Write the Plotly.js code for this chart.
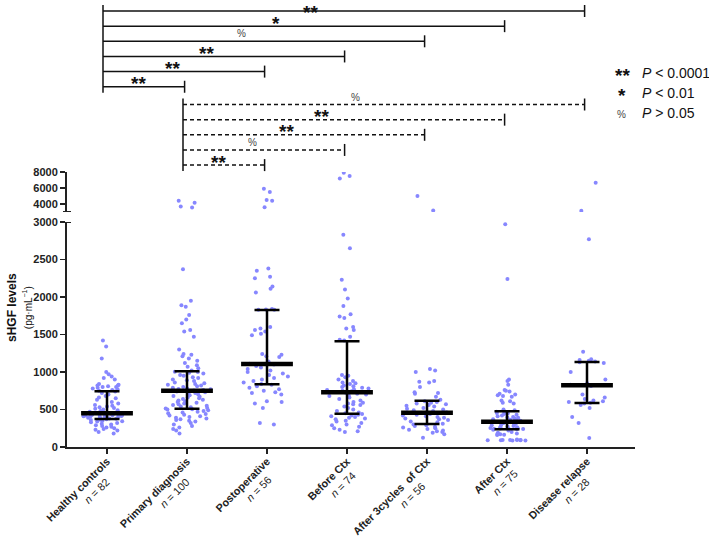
<!DOCTYPE html>
<html><head><meta charset="utf-8">
<script src="https://cdn.plot.ly/plotly-3.0.1.min.js"></script>
<style>html,body{margin:0;padding:0;background:#fff;} #chart{width:709px;height:536px;}</style>
</head><body><div id="chart"></div>
<script>
// ---------- data ----------
const categories = ['Healthy controls','Primary diagnosis','Postoperative','Before Ctx','After 3cycles\u00a0 of Ctx','After Ctx','Disease relapse'];
const groupSizes = [82, 100, 56, 74, 56, 75, 28];

const healthyControls = [1420,1340,1180,1000,970,940,920,900,840,830,820,820,810,800,800,790,780,770,760,750,
  740,720,700,680,660,650,630,600,580,560,550,540,530,520,510,500,490,480,470,460,455,
  450,448,445,440,435,430,430,425,420,420,415,410,410,405,400,400,395,390,385,380,378,
  370,365,360,350,345,340,330,320,310,300,290,280,270,260,250,240,230,220,200,180];
const primaryDiagnosis = [4400,4150,3700,3550,2370,1950,1890,1870,1760,1700,1650,1560,1540,1470,1300,1240,1230,1210,1180,1150,1120,1090,1070,1050,1020,
  1005,1000,990,980,960,950,930,920,900,890,880,860,850,840,830,820,810,800,790,780,775,770,765,760,755,
  750,740,730,720,710,700,690,680,670,660,650,640,630,620,610,600,590,580,570,560,550,540,530,520,515,
  505,500,490,480,470,460,450,440,430,420,410,400,390,380,370,360,350,340,320,300,280,260,240,220,180];
const postoperative = [5900,5500,4500,4400,3600,2380,2350,2270,2250,2140,2110,2060,1840,1835,
  1830,1830,1600,1580,1560,1540,1510,1490,1240,1230,1210,1200,1140,1110,
  1100,1080,1060,1040,1020,1000,980,960,940,920,900,880,860,840,
  830,810,790,770,750,730,720,700,610,600,580,520,320,300];
const beforeCtx = [7900,7500,7200,2830,2650,2230,2100,1980,1880,1770,1740,1720,1600,1580,1560,1470,1430,1420,
  960,950,930,900,880,860,850,840,820,810,800,790,780,770,760,750,745,740,735,
  725,710,700,690,680,660,640,620,600,590,580,570,560,540,520,500,480,460,450,
  440,430,420,410,400,390,380,370,350,340,320,300,290,270,250,230,210,200];
const after3CyclesCtx = [5000,3200,1040,1020,1000,880,870,860,800,730,720,710,670,630,
  610,600,590,580,570,560,550,540,520,510,500,490,480,465,
  455,450,440,430,420,410,400,390,380,370,360,340,330,310,
  300,290,280,270,260,250,240,230,220,210,200,190,170,125];
const afterCtx = [2970,2240,900,880,830,760,750,740,710,700,690,680,670,620,610,590,580,500,490,
  475,470,460,455,450,440,430,420,410,400,395,390,380,370,365,360,350,345,
  335,330,320,310,300,295,290,280,275,270,265,260,255,250,248,245,242,240,238,
  230,220,200,190,180,175,170,165,160,100,95,95,92,92,90,90,90,88,88];
const diseaseRelapse = [6660,3160,2770,1270,1170,1160,1150,
  1140,1130,1120,1000,900,850,830,
  815,700,660,640,620,610,600,
  590,580,560,520,400,320,120];

const medians = [450, 751, 1107, 729, 458, 338, 822];
const q1 = [375, 511, 836, 444, 307, 236, 587];
const q3 = [742, 1009, 1827, 1409, 618, 476, 1133];

const lowerTicks = [0, 500, 1000, 1500, 2000, 2500, 3000];
const upperTicks = [4000, 6000, 8000];

// comparisons vs healthy controls (solid) and vs primary diagnosis (dashed), top to bottom
const healthyCompTo = [6, 5, 4, 3, 2, 1];
const healthyCompSig = ['**', '*', '%', '**', '**', '**'];
const primaryCompTo = [6, 5, 4, 3, 2];
const primaryCompSig = ['%', '**', '**', '%', '**'];

const sigSymbols = ['**', '*', '%'];
const sigMeaning = ['<i>P</i> &lt; 0.0001', '<i>P</i> &lt; 0.01', '<i>P</i> &gt; 0.05'];

// ---------- build ----------
const W = 709, H = 536;
const fx = p => p / W;
const fy = p => 1 - p / H;
const BREAK = 3000;

const groups = [healthyControls, primaryDiagnosis, postoperative, beforeCtx, after3CyclesCtx, afterCtx, diseaseRelapse];
const lowX = [], lowY = [], upX = [], upY = [];
groups.forEach((g, i) => g.forEach(v => {
  if (v > BREAK) { upX.push(i); upY.push(v); } else { lowX.push(i); lowY.push(v); }
}));

// partially centre the second line of each tick label under the first
const cv = document.createElement('canvas').getContext('2d');
function textW(t, f) { cv.font = f; return cv.measureText(t).width; }
const nbspW = textW('\u00a0', '11px Arial') || 3.06;
const tickLabels = categories.map((c, i) => {
  const l2 = 'n = ' + groupSizes[i];
  const w1 = textW(c, 'bold 11px Arial');
  const w2 = textW(l2, '11px Arial');
  const pad = Math.max(0, Math.round(0.55 * (w1 - w2) / 2 / nbspW));
  return '<b>' + c + '</b><br><i>n</i> = ' + groupSizes[i] + '\u00a0'.repeat(pad);
});

const dotColor = '#8787ff';
const boxCommon = {
  type: 'box', boxpoints: 'all', pointpos: 0, width: 0.7,
  marker: {color: dotColor, size: 4, line: {width: 0}},
  line: {color: 'rgba(0,0,0,0)', width: 0}, fillcolor: 'rgba(0,0,0,0)',
  whiskerwidth: 0, hoverinfo: 'y', showlegend: false
};
const traces = [
  Object.assign({}, boxCommon, {x: lowX, y: lowY, xaxis: 'x', yaxis: 'y', jitter: 0.9}),
  Object.assign({}, boxCommon, {x: upX, y: upY, xaxis: 'x', yaxis: 'y2', jitter: 0.35}),
  {
    type: 'scatter', mode: 'markers', x: categories.map((c, i) => i), y: medians,
    xaxis: 'x', yaxis: 'y', showlegend: false, hoverinfo: 'y',
    marker: {symbol: 'line-ew', size: 37, color: '#000', line: {width: 4.5, color: '#000'}},
    error_y: {type: 'data', symmetric: false,
      array: q3.map((v, i) => v - medians[i]),
      arrayminus: q1.map((v, i) => medians[i] - v),
      color: '#000', thickness: 2.5, width: 12.5}
  }
];

const axisCommon = {
  showline: true, linecolor: '#222', linewidth: 2, ticks: 'outside', ticklen: 5,
  tickwidth: 1.6, tickcolor: '#222', showgrid: false, zeroline: false, automargin: false,
  fixedrange: true
};

const shapes = [];
const annotations = [];
const lineBlack = {color: '#111', width: 1.5};

// axis break caps
shapes.push({type: 'line', xref: 'paper', yref: 'y', x0: fx(63), x1: fx(71), y0: BREAK, y1: BREAK, line: {color: '#222', width: 2}});
shapes.push({type: 'line', xref: 'paper', yref: 'y2', x0: fx(63), x1: fx(71), y0: BREAK, y1: BREAK, line: {color: '#222', width: 2}});

const starFont = {family: 'Arial', size: 19, color: '#111', weight: 'bold'};
const pctFont = {family: 'Arial', size: 10, color: '#444'};

function addBrackets(from, toList, sigList, topPx, stepPx, dash) {
  const left = from - 0.05;
  const n = toList.length;
  const lastPx = topPx + stepPx * (n - 1);
  shapes.push({type: 'line', xref: 'x', yref: 'paper', x0: left, x1: left, y0: fy(topPx - 6), y1: fy(lastPx + 6), line: lineBlack});
  toList.forEach((to, k) => {
    const yp = topPx + stepPx * k;
    const right = to - 0.03;
    shapes.push({type: 'line', xref: 'x', yref: 'paper', x0: left, x1: right, y0: fy(yp), y1: fy(yp),
      line: Object.assign({}, lineBlack, dash ? {dash: '4px,3px'} : {})});
    shapes.push({type: 'line', xref: 'x', yref: 'paper', x0: right, x1: right, y0: fy(yp - 6), y1: fy(yp + 6), line: lineBlack});
    const sig = sigList[k];
    const lx = left + 0.43 * (right - left);
    if (sig === '%') {
      annotations.push({xref: 'x', yref: 'paper', x: lx, y: fy(yp - 7.5), text: '%', showarrow: false,
        xanchor: 'center', yanchor: 'middle', font: pctFont});
    } else if (yp - 3 < 11) {
      annotations.push({xref: 'x', yref: 'paper', x: lx, y: 1, text: sig, showarrow: false,
        xanchor: 'center', yanchor: 'top', font: starFont});
    } else {
      annotations.push({xref: 'x', yref: 'paper', x: lx, y: fy(yp - 3), text: sig, showarrow: false,
        xanchor: 'center', yanchor: 'middle', font: starFont});
    }
  });
}
addBrackets(0, healthyCompTo, healthyCompSig, 11, 15.15, false);
addBrackets(1, primaryCompTo, primaryCompSig, 104.5, 15.15, true);

// significance key
sigSymbols.forEach((s, i) => {
  const yp = 73 + 20 * i;
  if (s === '%') {
    annotations.push({xref: 'paper', yref: 'paper', x: fx(621), y: fy(yp + 1), text: '%', showarrow: false,
      xanchor: 'center', yanchor: 'middle', font: pctFont});
  } else {
    annotations.push({xref: 'paper', yref: 'paper', x: fx(622), y: fy(yp + 3), text: s, showarrow: false,
      xanchor: 'center', yanchor: 'middle', font: starFont});
  }
  annotations.push({xref: 'paper', yref: 'paper', x: fx(640), y: fy(yp), text: sigMeaning[i], showarrow: false,
    xanchor: 'left', yanchor: 'middle', font: {family: 'Arial', size: 14, color: '#111'}});
});

// y axis title
annotations.push({xref: 'paper', yref: 'paper', x: fx(19), y: fy(308), textangle: -90, showarrow: false,
  xanchor: 'center', yanchor: 'middle',
  text: '<b>sHGF levels</b><br><span style="font-size:10px">(pg·mL<sup>−1</sup>)</span>',
  font: {family: 'Arial', size: 12, color: '#111'}});

const layout = {
  width: W, height: H, margin: {l: 0, r: 0, t: 0, b: 0, pad: 0},
  paper_bgcolor: '#fff', plot_bgcolor: 'rgba(0,0,0,0)', showlegend: false,
  font: {family: 'Arial', color: '#222'},
  xaxis: Object.assign({}, axisCommon, {
    domain: [fx(67), fx(635)], range: [-0.5, 6.6], anchor: 'y',
    tickmode: 'array', tickvals: categories.map((c, i) => i),
    ticktext: tickLabels, ticklabelstandoff: -3,
    tickangle: -45, tickfont: {family: 'Arial', size: 10.8, color: '#222'}
  }),
  yaxis: Object.assign({}, axisCommon, {
    domain: [fy(447), fy(222)], range: [0, BREAK], anchor: 'x',
    tickmode: 'array', tickvals: lowerTicks,
    tickfont: {family: 'Arial', size: 11, color: '#222', weight: 'bold'}
  }),
  yaxis2: Object.assign({}, axisCommon, {
    domain: [fy(212), fy(172)], range: [BREAK, 8000], anchor: 'x',
    tickmode: 'array', tickvals: upperTicks,
    tickfont: {family: 'Arial', size: 11, color: '#222', weight: 'bold'}
  }),
  boxmode: 'overlay',
  shapes: shapes, annotations: annotations
};

Plotly.newPlot('chart', traces, layout, {staticPlot: true, displayModeBar: false});
</script></body></html>
